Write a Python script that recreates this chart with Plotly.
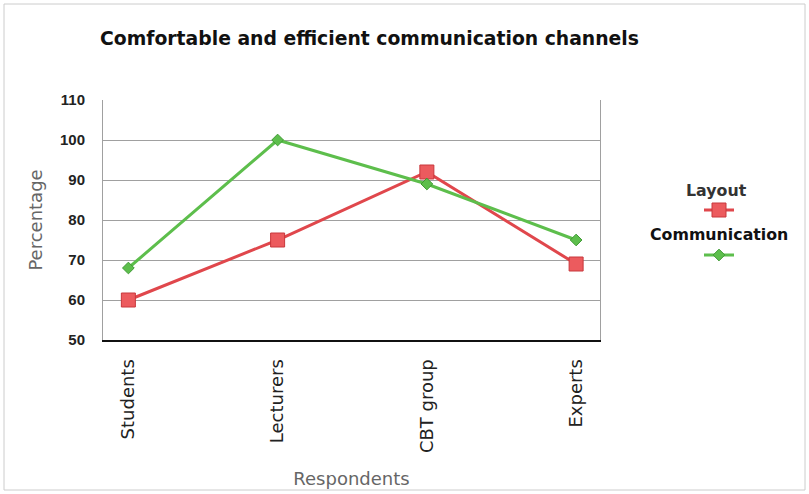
import plotly.graph_objects as go

categories = ["Students", "Lecturers", "CBT group", "Experts"]
layout_vals = [60, 75, 92, 69]
comm_vals = [68, 100, 89, 75]
y_ticks = [50, 60, 70, 80, 90, 100, 110]
series_names = ["Layout", "Communication"]

L, R, T, B = 103, 209, 100, 154
W, H = 809, 494
PW, PH = W - L - R, H - T - B


def px(x):
    return (x - L) / PW


def py(y):
    return (H - B - y) / PH


fig = go.Figure()
fig.add_trace(go.Scatter(
    x=categories, y=layout_vals, name=" ", mode="lines+markers",
    line=dict(color="#E0474C", width=3),
    marker=dict(symbol="square", size=14, color="#EC5B5E", line=dict(color="#C8383C", width=1)),
    legend="legend", showlegend=True,
))
fig.add_trace(go.Scatter(
    x=categories, y=comm_vals, name=" ", mode="lines+markers",
    line=dict(color="#5DBE4C", width=3),
    marker=dict(symbol="diamond", size=9, color="#5DBE4C", line=dict(color="#3E9A33", width=1)),
    legend="legend2", showlegend=True,
))

fig.update_layout(
    width=W, height=H,
    margin=dict(l=L, r=R, t=T, b=B),
    paper_bgcolor="white", plot_bgcolor="white",
    showlegend=True,
    title=dict(text="<b>Comfortable and efficient communication channels</b>",
               x=100/W, xanchor="left", y=1-38/H, yanchor="middle",
               font=dict(family="DejaVu Sans", size=18.8, color="#111111")),
    xaxis=dict(
        type="category", range=[-0.17, 3.16], automargin=False,
        tickangle=-90, tickfont=dict(family="DejaVu Sans", size=18, color="#222222"),
        ticklabelstandoff=10,
        showgrid=False, showline=True, linecolor="#111111", linewidth=2,
        ticks="", title=dict(text="Respondents", standoff=20,
                             font=dict(family="DejaVu Sans", size=18, color="#666666")),
    ),
    yaxis=dict(
        range=[50, 110], tickvals=y_ticks, automargin=False,
        tickfont=dict(family="Liberation Sans", size=15, color="#222222", weight="bold"),
        ticklabelstandoff=14,
        showgrid=True, gridcolor="#A0A0A0", gridwidth=1,
        showline=True, linecolor="#A0A0A0", mirror=True,
        ticks="", zeroline=False,
        title=dict(text="Percentage", standoff=12,
                   font=dict(family="DejaVu Sans", size=18, color="#666666")),
    ),
    legend=dict(
        x=px(699), y=py(210), xanchor="left", yanchor="middle",
        font=dict(size=2), bgcolor="rgba(0,0,0,0)", itemwidth=30,
    ),
    legend2=dict(
        x=px(699), y=py(255), xanchor="left", yanchor="middle",
        font=dict(size=2), bgcolor="rgba(0,0,0,0)", itemwidth=30,
    ),
    annotations=[
        dict(text=series_names[0], xref="paper", yref="paper", x=px(716), y=py(190),
             xanchor="center", yanchor="middle", showarrow=False,
             font=dict(family="DejaVu Sans", size=15.8, color="#333333", weight="bold")),
        dict(text=series_names[1], xref="paper", yref="paper", x=px(719), y=py(234),
             xanchor="center", yanchor="middle", showarrow=False,
             font=dict(family="DejaVu Sans", size=15.8, color="#111111", weight="bold")),
    ],
    shapes=[dict(type="rect", xref="paper", yref="paper",
                 x0=px(4), x1=px(805), y0=py(490), y1=py(4),
                 line=dict(color="#CCCCCC", width=1), layer="below")],
)

fig.write_html("out.html")
